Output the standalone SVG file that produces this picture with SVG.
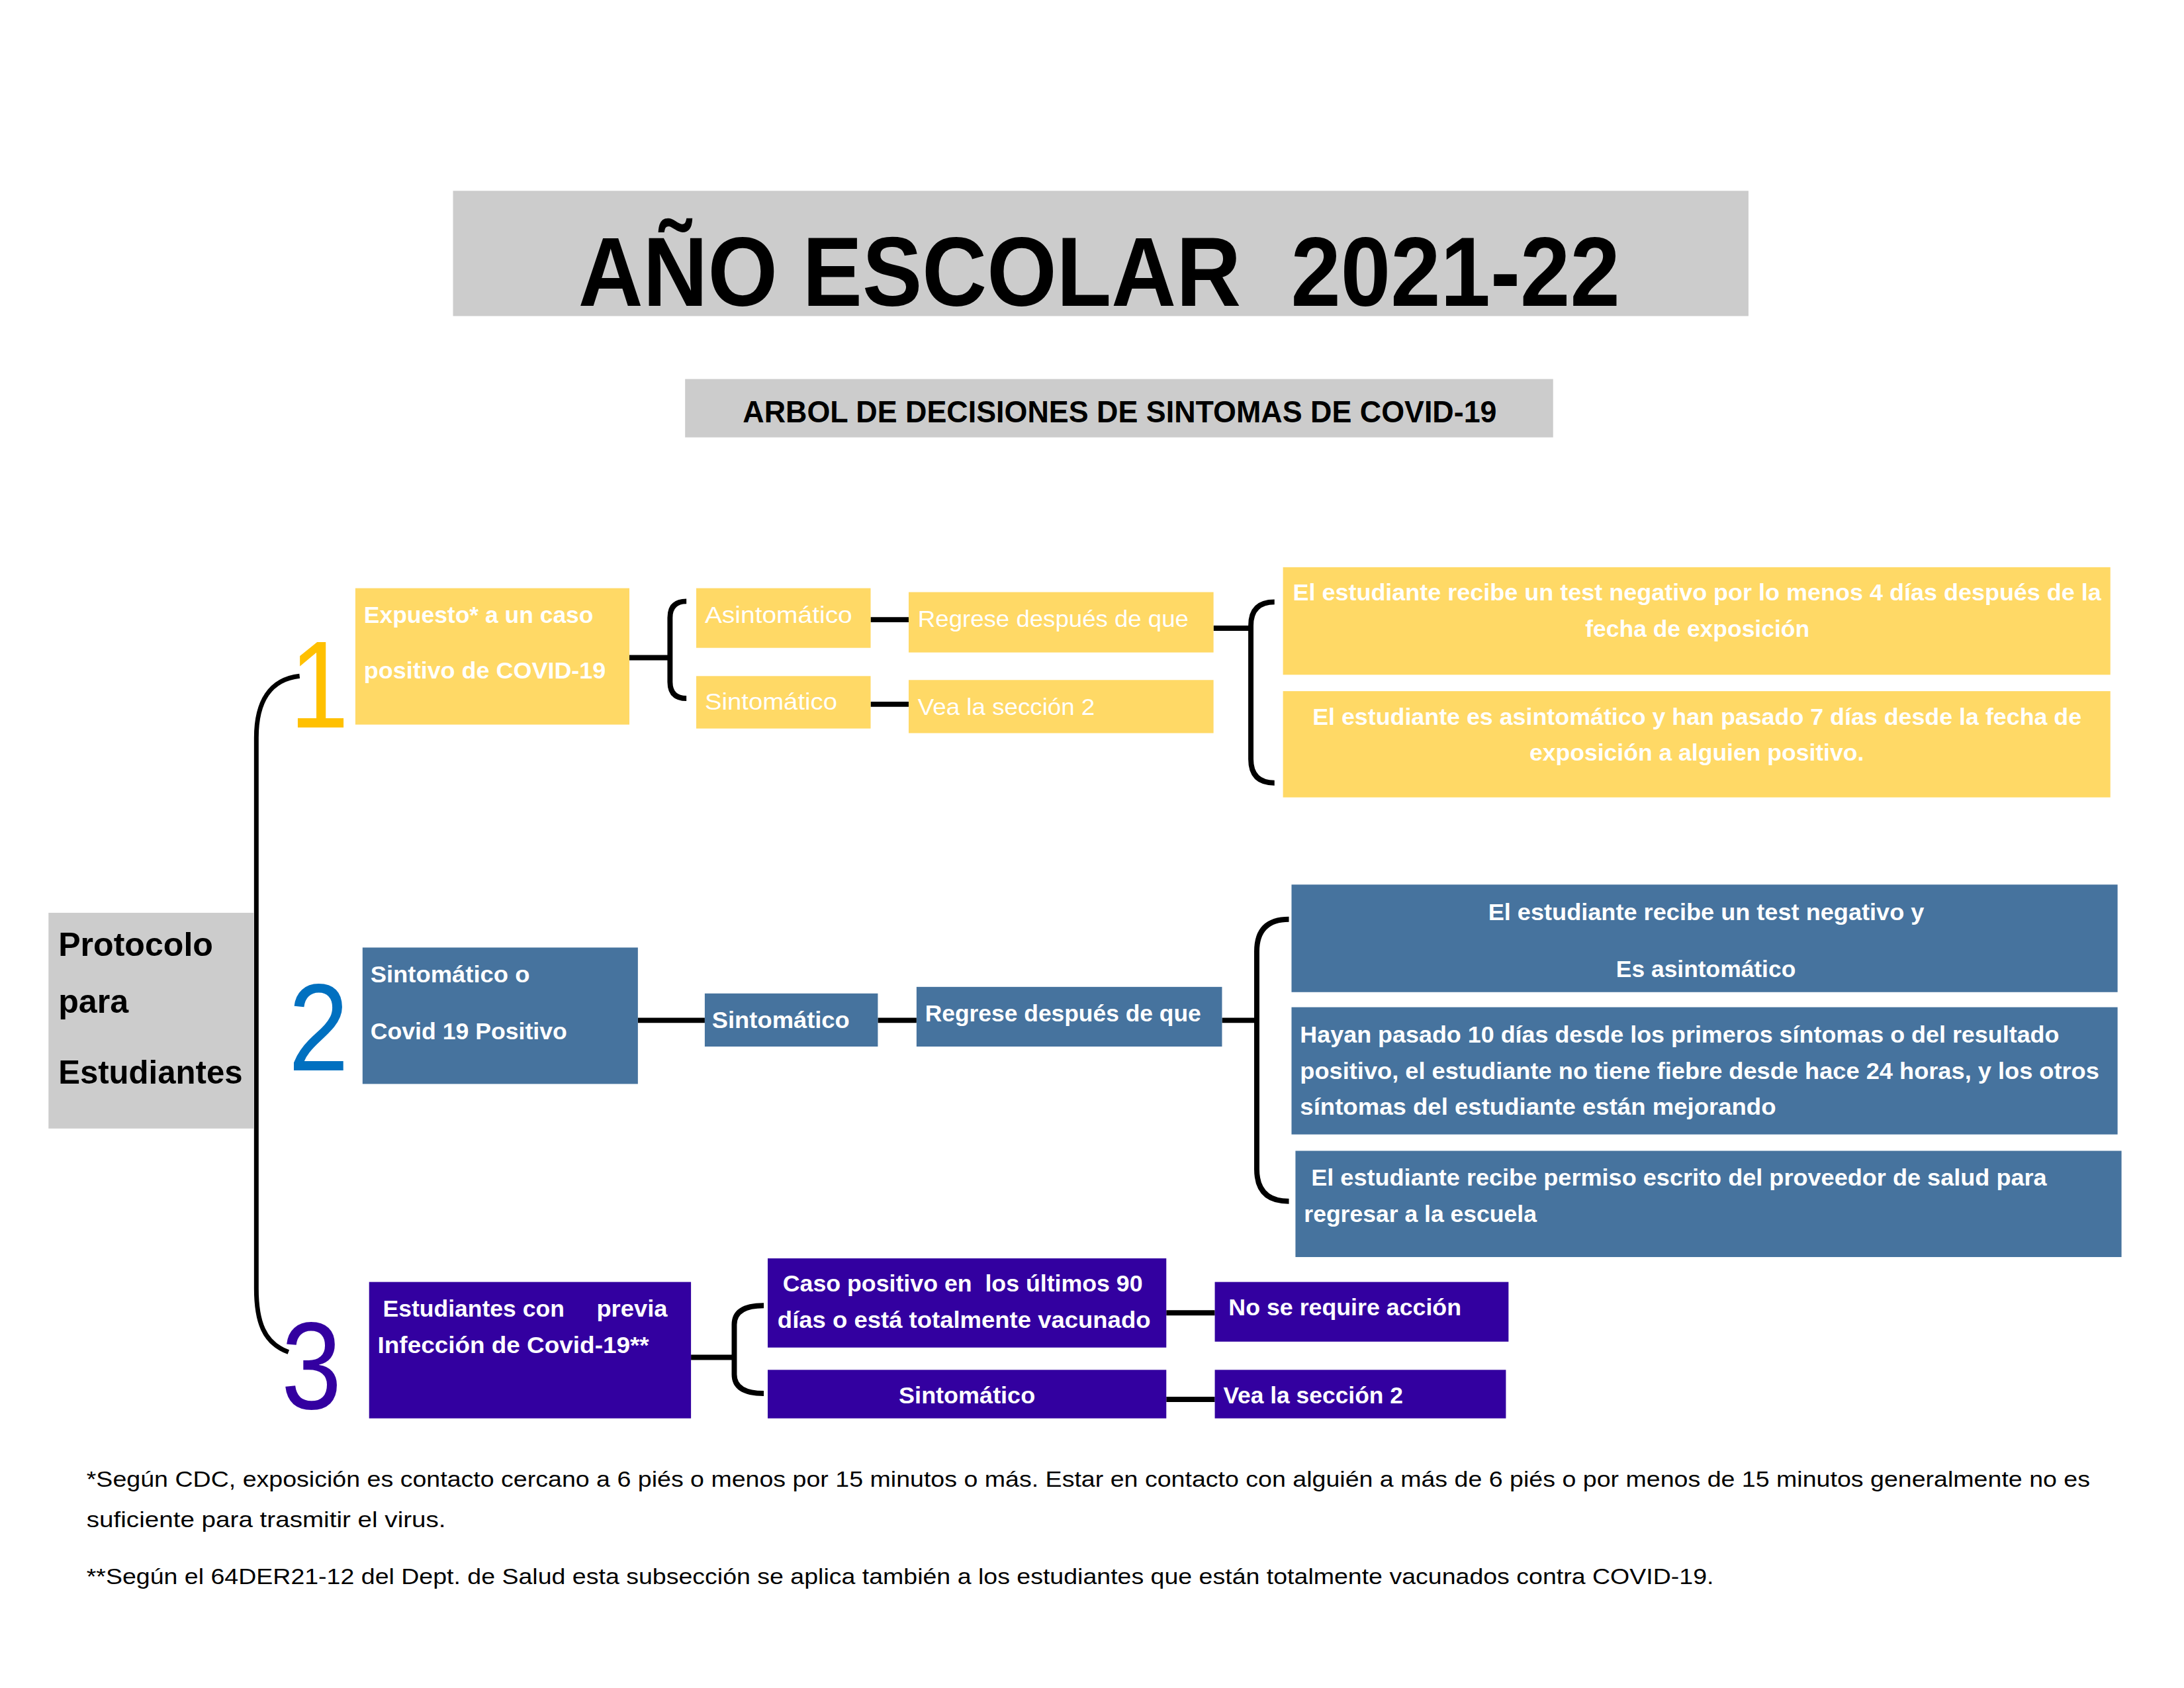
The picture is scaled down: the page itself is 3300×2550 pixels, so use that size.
<svg xmlns="http://www.w3.org/2000/svg" width="3300" height="2550" viewBox="0 0 3300 2550">
<style>
text{font-family:"Liberation Sans",Arial,sans-serif}
.w{fill:#fff;font-size:36px;font-weight:bold}
.wr{fill:#fff;font-size:36px}
.k{fill:#000;font-weight:bold}
.fn{fill:#000;font-size:34px}
.y{fill:#FFD966}
.b{fill:#46739E}
.p{fill:#3300A0}
.g{fill:#CCCCCC}
.c{fill:none;stroke:#000;stroke-width:8;stroke-linecap:butt}
.m{fill:none;stroke:#000;stroke-width:7}
.d{font-size:190px}
</style>
<rect width="3300" height="2550" fill="#fff"/>
<g id="page" transform="scale(0.9906)">
<g id="title">
<rect class="g" x="691" y="291" width="1976" height="191"/>
<text class="k" x="882" y="466" font-size="150" textLength="1589" lengthAdjust="spacingAndGlyphs" xml:space="preserve">AÑO ESCOLAR  2021-22</text>
</g>
<g id="subtitle">
<rect class="g" x="1045" y="578" width="1324" height="89"/>
<text class="k" x="1133" y="644" font-size="46" textLength="1150" lengthAdjust="spacingAndGlyphs">ARBOL DE DECISIONES DE SINTOMAS DE COVID-19</text>
</g>
<g id="connectors">
<path class="m" d="M457 1031 C412 1036 391 1070 391 1125 L391 1965 C391 2015 402 2048 440 2062"/>
<path class="c" d="M960 1003 H1022 M1047 917 Q1022 917 1022 942 V1040 Q1022 1065 1047 1065"/>
<path class="c" d="M1328 945 H1386 M1328 1074 H1386"/>
<path class="c" d="M1851 958 H1908 M1944 918 Q1908 918 1908 954 V1158 Q1908 1194 1944 1194"/>
<path class="c" d="M973 1556 H1075 M1339 1556 H1398 M1864 1556 H1917 M1966 1402 Q1917 1402 1917 1451 V1783 Q1917 1832 1966 1832"/>
<path class="c" d="M1054 2070 H1120 M1165 1991 Q1120 1991 1120 2020 V2096 Q1120 2125 1165 2125"/>
<path class="c" d="M1779 2002 H1853 M1779 2134 H1853"/>
</g>
<g id="protocolo">
<rect class="g" x="74" y="1392" width="313" height="329"/>
<text class="k" x="89" y="1458" font-size="50" textLength="236" lengthAdjust="spacingAndGlyphs">Protocolo</text>
<text class="k" x="89" y="1545" font-size="50" textLength="107" lengthAdjust="spacingAndGlyphs">para</text>
<text class="k" x="89" y="1653" font-size="50" textLength="281" lengthAdjust="spacingAndGlyphs">Estudiantes</text>
</g>
<g id="digits">
<text class="d" x="442" y="1109" fill="#FFC000" textLength="90" lengthAdjust="spacingAndGlyphs">1</text>
<text class="d" x="440" y="1632" fill="#0070C0" textLength="92" lengthAdjust="spacingAndGlyphs">2</text>
<text class="d" x="429" y="2148" fill="#3300A0" textLength="92" lengthAdjust="spacingAndGlyphs">3</text>
</g>
<g id="s1-expuesto">
<rect class="y" x="542" y="897" width="418" height="208"/>
<text class="w" x="555" y="950" textLength="350" lengthAdjust="spacingAndGlyphs">Expuesto* a un caso</text>
<text class="w" x="555" y="1035" textLength="369" lengthAdjust="spacingAndGlyphs">positivo de COVID-19</text>
</g>
<g id="s1-asintomatico">
<rect class="y" x="1062" y="897" width="266" height="91"/>
<text class="wr" x="1075" y="950" textLength="225" lengthAdjust="spacingAndGlyphs">Asintomático</text>
</g>
<g id="s1-sintomatico">
<rect class="y" x="1062" y="1031" width="266" height="80"/>
<text class="wr" x="1075" y="1082" textLength="202" lengthAdjust="spacingAndGlyphs">Sintomático</text>
</g>
<g id="s1-regrese">
<rect class="y" x="1386" y="903" width="465" height="92"/>
<text class="wr" x="1400" y="956" textLength="413" lengthAdjust="spacingAndGlyphs">Regrese después de que</text>
</g>
<g id="s1-vea">
<rect class="y" x="1386" y="1037" width="465" height="81"/>
<text class="wr" x="1400" y="1090" textLength="270" lengthAdjust="spacingAndGlyphs">Vea la sección 2</text>
</g>
<g id="s1-cond1">
<rect class="y" x="1957" y="865" width="1262" height="164"/>
<text class="w" x="1972" y="916" textLength="1233" lengthAdjust="spacingAndGlyphs">El estudiante recibe un test negativo por lo menos 4 días después de la</text>
<text class="w" x="2418" y="971" textLength="342" lengthAdjust="spacingAndGlyphs">fecha de exposición</text>
</g>
<g id="s1-cond2">
<rect class="y" x="1957" y="1054" width="1262" height="162"/>
<text class="w" x="2002" y="1105" textLength="1173" lengthAdjust="spacingAndGlyphs">El estudiante es asintomático y han pasado 7 días desde la fecha de</text>
<text class="w" x="2333" y="1160" textLength="510" lengthAdjust="spacingAndGlyphs">exposición a alguien positivo.</text>
</g>
<g id="s2-main">
<rect class="b" x="553" y="1445" width="420" height="208"/>
<text class="w" x="565" y="1498" textLength="243" lengthAdjust="spacingAndGlyphs">Sintomático o</text>
<text class="w" x="565" y="1585" textLength="300" lengthAdjust="spacingAndGlyphs">Covid 19 Positivo</text>
</g>
<g id="s2-sintomatico">
<rect class="b" x="1075" y="1515" width="264" height="81"/>
<text class="w" x="1086" y="1568" textLength="210" lengthAdjust="spacingAndGlyphs">Sintomático</text>
</g>
<g id="s2-regrese">
<rect class="b" x="1398" y="1505" width="466" height="91"/>
<text class="w" x="1411" y="1558" textLength="421" lengthAdjust="spacingAndGlyphs">Regrese después de que</text>
</g>
<g id="s2-cond1">
<rect class="b" x="1970" y="1349" width="1260" height="164"/>
<text class="w" x="2270" y="1403" textLength="665" lengthAdjust="spacingAndGlyphs">El estudiante recibe un test negativo y</text>
<text class="w" x="2465" y="1490" textLength="274" lengthAdjust="spacingAndGlyphs">Es asintomático</text>
</g>
<g id="s2-cond2">
<rect class="b" x="1970" y="1536" width="1260" height="194"/>
<text class="w" x="1983" y="1590" textLength="1158" lengthAdjust="spacingAndGlyphs">Hayan pasado 10 días desde los primeros síntomas o del resultado</text>
<text class="w" x="1983" y="1645" textLength="1219" lengthAdjust="spacingAndGlyphs">positivo, el estudiante no tiene fiebre desde hace 24 horas, y los otros</text>
<text class="w" x="1983" y="1700" textLength="726" lengthAdjust="spacingAndGlyphs">síntomas del estudiante están mejorando</text>
</g>
<g id="s2-cond3">
<rect class="b" x="1976" y="1755" width="1260" height="162"/>
<text class="w" x="2000" y="1808" textLength="1122" lengthAdjust="spacingAndGlyphs">El estudiante recibe permiso escrito del proveedor de salud para</text>
<text class="w" x="1989" y="1864" textLength="355" lengthAdjust="spacingAndGlyphs">regresar a la escuela</text>
</g>
<g id="s3-main">
<rect class="p" x="563" y="1955" width="491" height="208"/>
<text class="w" x="584" y="2008" textLength="277" lengthAdjust="spacingAndGlyphs">Estudiantes con</text>
<text class="w" x="910" y="2008" textLength="108" lengthAdjust="spacingAndGlyphs">previa</text>
<text class="w" x="576" y="2063" textLength="414" lengthAdjust="spacingAndGlyphs">Infección de Covid-19**</text>
</g>
<g id="s3-caso">
<rect class="p" x="1171" y="1919" width="608" height="136"/>
<text class="w" x="1194" y="1970" textLength="549" lengthAdjust="spacingAndGlyphs" xml:space="preserve">Caso positivo en  los últimos 90</text>
<text class="w" x="1186" y="2025" textLength="569" lengthAdjust="spacingAndGlyphs">días o está totalmente vacunado</text>
</g>
<g id="s3-noaccion">
<rect class="p" x="1853" y="1955" width="448" height="91"/>
<text class="w" x="1874" y="2006" textLength="355" lengthAdjust="spacingAndGlyphs">No se require acción</text>
</g>
<g id="s3-sintomatico">
<rect class="p" x="1171" y="2089" width="608" height="74"/>
<text class="w" x="1371" y="2140" textLength="208" lengthAdjust="spacingAndGlyphs">Sintomático</text>
</g>
<g id="s3-vea">
<rect class="p" x="1853" y="2089" width="444" height="74"/>
<text class="w" x="1866" y="2140" textLength="274" lengthAdjust="spacingAndGlyphs">Vea la sección 2</text>
</g>
<g id="footnotes">
<text class="fn" x="132" y="2267" textLength="3056" lengthAdjust="spacingAndGlyphs">*Según CDC, exposición es contacto cercano a 6 piés o menos por 15 minutos o más. Estar en contacto con alguién a más de 6 piés o por menos de 15 minutos generalmente no es</text>
<text class="fn" x="132" y="2329" textLength="548" lengthAdjust="spacingAndGlyphs">suficiente para trasmitir el virus.</text>
<text class="fn" x="132" y="2416" textLength="2482" lengthAdjust="spacingAndGlyphs">**Según el 64DER21-12 del Dept. de Salud esta subsección se aplica también a los estudiantes que están totalmente vacunados contra COVID-19.</text>
</g>
</g>
</svg>
